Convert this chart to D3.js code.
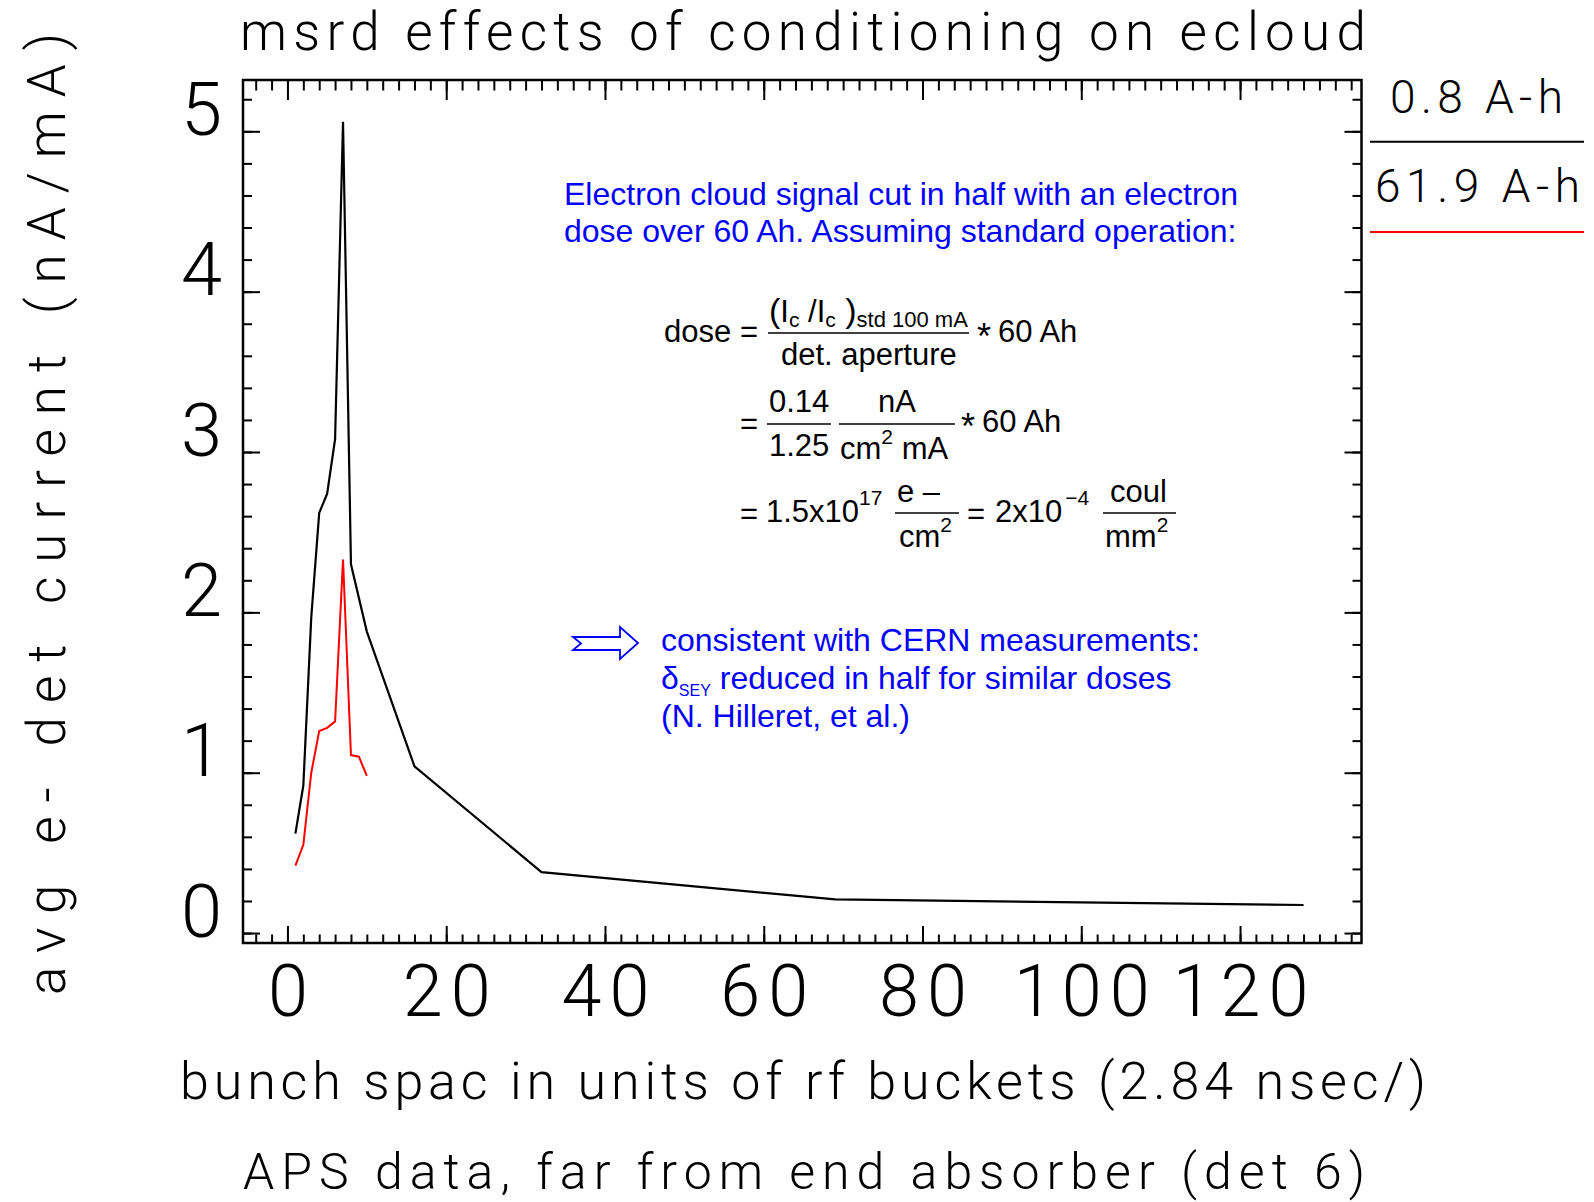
<!DOCTYPE html>
<html>
<head>
<meta charset="utf-8">
<script src="https://cdn.jsdelivr.net/npm/d3@7"></script>
<style>
  body { margin: 0; background: #fff; }
  svg { display: block; }
</style>
</head>
<body>
<div id="chart"></div>
<script>
// bunch spacing (rf buckets) and avg e- detector current (nA/mA)
const spacingLow = [1, 2, 3, 4, 5, 6, 7, 8, 10, 16, 32, 69, 128];
const currentLow = [0.62, 0.92, 1.97, 2.62, 2.74, 3.08, 5.06, 2.3, 1.88, 1.04, 0.38, 0.21, 0.175];
const spacingHigh = [1, 2, 3, 4, 5, 6, 7, 8, 9, 10];
const currentHigh = [0.42, 0.55, 1.0, 1.26, 1.28, 1.32, 2.33, 1.11, 1.1, 0.98];
const legendLabels = ["0.8 A-h", "61.9 A-h"];
const xTickValues = [0, 20, 40, 60, 80, 100, 120];
const yTickValues = [0, 1, 2, 3, 4, 5];

const W = 1594, H = 1202;
const plotL = 243, plotR = 1361.5, plotT = 80, plotB = 943;
const hershey = "Roboto, 'DejaVu Sans', sans-serif";
const hWeight = 300;
const arial = "'Liberation Sans', Arial, sans-serif";

const x = d3.scaleLinear().domain([-5.6, 135.3]).range([plotL, plotR]);
const y = d3.scaleLinear().domain([-0.062, 5.32]).range([plotB, plotT]);

const xMinor = d3.range(-4, 135, 2);
const yMinor = d3.range(0, 27).map(i => i * 0.2);

const svg = d3.select("#chart").append("svg")
  .attr("width", W)
  .attr("height", H);

svg.append("rect").attr("width", W).attr("height", H).attr("fill", "#fff");

function tidy(g) {
  g.select(".domain").remove();
  g.selectAll("line").attr("stroke", "#000").attr("stroke-width", 2);
}

// bottom
svg.append("g").attr("transform", `translate(0,${plotB})`)
  .call(d3.axisBottom(x).tickValues(xMinor).tickSize(-8.5).tickSizeOuter(0).tickFormat(""))
  .call(tidy);
const xAxis = svg.append("g").attr("transform", `translate(0,${plotB})`)
  .call(d3.axisBottom(x).tickValues(xTickValues).tickSize(-17).tickSizeOuter(0).tickFormat(d3.format("d")))
  .call(tidy);
xAxis.selectAll("text")
  .attr("y", 73).attr("dy", 0).attr("dx", 4)
  .attr("fill", "#000")
  .style("font-family", hershey).style("font-weight", hWeight)
  .style("font-size", "72px").style("letter-spacing", "8px");

// top
svg.append("g").attr("transform", `translate(0,${plotT})`)
  .call(d3.axisTop(x).tickValues(xMinor).tickSize(-10.5).tickSizeOuter(0).tickFormat(""))
  .call(tidy);
svg.append("g").attr("transform", `translate(0,${plotT})`)
  .call(d3.axisTop(x).tickValues(xTickValues).tickSize(-20).tickSizeOuter(0).tickFormat(""))
  .call(tidy);

// left
svg.append("g").attr("transform", `translate(${plotL},0)`)
  .call(d3.axisLeft(y).tickValues(yMinor).tickSize(-9).tickSizeOuter(0).tickFormat(""))
  .call(tidy);
const yAxis = svg.append("g").attr("transform", `translate(${plotL},0)`)
  .call(d3.axisLeft(y).tickValues(yTickValues).tickSize(-17).tickSizeOuter(0).tickFormat(d3.format("d")))
  .call(tidy);
yAxis.selectAll("text")
  .attr("x", -21).attr("dy", 3)
  .attr("fill", "#000")
  .style("font-family", hershey).style("font-weight", hWeight)
  .style("font-size", "74px");

// right
svg.append("g").attr("transform", `translate(${plotR},0)`)
  .call(d3.axisRight(y).tickValues(yMinor).tickSize(-9).tickSizeOuter(0).tickFormat(""))
  .call(tidy);
svg.append("g").attr("transform", `translate(${plotR},0)`)
  .call(d3.axisRight(y).tickValues(yTickValues).tickSize(-17).tickSizeOuter(0).tickFormat(""))
  .call(tidy);

svg.append("rect")
  .attr("x", plotL).attr("y", plotT)
  .attr("width", plotR - plotL).attr("height", plotB - plotT)
  .attr("fill", "none").attr("stroke", "#000").attr("stroke-width", 2.5);

// curves
const line = d3.line().x(d => x(d[0])).y(d => y(d[1]));
svg.append("path")
  .datum(d3.zip(spacingLow, currentLow))
  .attr("d", line)
  .attr("fill", "none").attr("stroke", "#000").attr("stroke-width", 2.2);
svg.append("path")
  .datum(d3.zip(spacingHigh, currentHigh))
  .attr("d", line)
  .attr("fill", "none").attr("stroke", "#ff0000").attr("stroke-width", 2);

// hershey-like titles
function htext(str, px, py, size, len, anchor) {
  return svg.append("text")
    .attr("x", px).attr("y", py)
    .attr("text-anchor", anchor || "middle")
    .attr("textLength", len).attr("lengthAdjust", "spacing")
    .style("font-family", hershey).style("font-weight", hWeight)
    .style("font-size", size + "px")
    .text(str);
}
htext("msrd effects of conditioning on ecloud", 803, 50, 53, 1126);
htext("bunch spac in units of rf buckets (2.84 nsec/)", 803, 1099, 52, 1246);
htext("APS data, far from end absorber (det 6)", 804, 1189, 50, 1122);
htext("avg e- det current (nA/mA)", 0, 0, 53, 962)
  .attr("transform", "translate(65,514) rotate(-90)");

// legend
const legendColors = ["#000", "#ff0000"];
const legendRows = [{ ty: 113, tx: 1390, len: 173, ly: 141.7 }, { ty: 201.5, tx: 1375, len: 205, ly: 232 }];
legendLabels.forEach((lab, i) => {
  const r = legendRows[i];
  htext(lab, r.tx, r.ty, 46, r.len, "start");
  svg.append("line")
    .attr("x1", 1370).attr("x2", 1584).attr("y1", r.ly).attr("y2", r.ly)
    .attr("stroke", legendColors[i]).attr("stroke-width", 2);
});

// annotations
function atext(px, py, size, color) {
  return svg.append("text")
    .attr("x", px).attr("y", py)
    .attr("fill", color || "#000")
    .style("font-family", arial)
    .style("font-size", size + "px");
}
function bar(x1, x2, yy) {
  svg.append("line").attr("x1", x1).attr("x2", x2).attr("y1", yy).attr("y2", yy)
    .attr("stroke", "#000").attr("stroke-width", 1.6);
}
const blue = "#0000ff";
atext(564, 205, 32, blue).text("Electron cloud signal cut in half with an electron");
atext(564, 242, 32, blue).text("dose over 60 Ah. Assuming standard operation:");

// line 1
atext(664, 342, 31).text("dose");
atext(740, 342, 31).text("=");
const num = atext(769, 322, 31);
num.append("tspan").style("font-size", "34px").text("(");
num.append("tspan").text("I");
num.append("tspan").attr("dy", 5).style("font-size", "21px").text("c");
num.append("tspan").attr("dy", -5).text(" /I");
num.append("tspan").attr("dy", 5).style("font-size", "21px").text("c");
num.append("tspan").attr("dy", -5).style("font-size", "34px").text(" )");
num.append("tspan").attr("dy", 5).style("font-size", "22px").text("std 100 mA");
bar(768, 969, 333);
atext(781, 365, 31).text("det. aperture");
atext(977, 349, 36).text("*");
atext(998, 342, 31).text("60 Ah");

// line 2
atext(740, 434, 31).text("=");
atext(769, 412, 31).text("0.14");
bar(767, 831, 424);
atext(769, 456, 31).text("1.25");
atext(878, 412, 31).text("nA");
bar(839, 955, 424);
const cm1 = atext(840, 459, 31);
cm1.append("tspan").text("cm");
cm1.append("tspan").attr("dy", -15).style("font-size", "21px").text("2");
cm1.append("tspan").attr("dy", 15).text(" mA");
atext(961, 439, 36).text("*");
atext(982, 432, 31).text("60 Ah");

// line 3
atext(740, 524, 31).text("=");
const e17 = atext(766, 522, 31);
e17.append("tspan").text("1.5x10");
e17.append("tspan").attr("dy", -17).style("font-size", "21px").text("17");
atext(897, 502, 31).text("e –");
bar(895, 959, 513);
const cm2 = atext(899, 547, 31);
cm2.append("tspan").text("cm");
cm2.append("tspan").attr("dy", -15).style("font-size", "21px").text("2");
atext(967, 524, 31).text("=");
const e4 = atext(995, 522, 31);
e4.append("tspan").text("2x10");
e4.append("tspan").attr("dy", -17).attr("dx", 3).style("font-size", "21px").text("−4");
atext(1110, 502, 31).text("coul");
bar(1103, 1176, 513);
const mm2 = atext(1105, 547, 31);
mm2.append("tspan").text("mm");
mm2.append("tspan").attr("dy", -15).style("font-size", "21px").text("2");

// arrow + conclusion
svg.append("path")
  .attr("d", "M573,637 L620,637 L620,627 L638,643 L620,659 L620,650 L573,650 L581,643.5 Z")
  .attr("fill", "none").attr("stroke", blue).attr("stroke-width", 1.8);
atext(661, 651, 32, blue).text("consistent with CERN measurements:");
const dl = atext(661, 689, 32, blue);
dl.append("tspan").text("δ");
dl.append("tspan").attr("dy", 7).style("font-size", "16px").text("SEY");
dl.append("tspan").attr("dy", -7).text(" reduced in half for similar doses");
atext(661, 727, 32, blue).text("(N. Hilleret, et al.)");
</script>
</body>
</html>
